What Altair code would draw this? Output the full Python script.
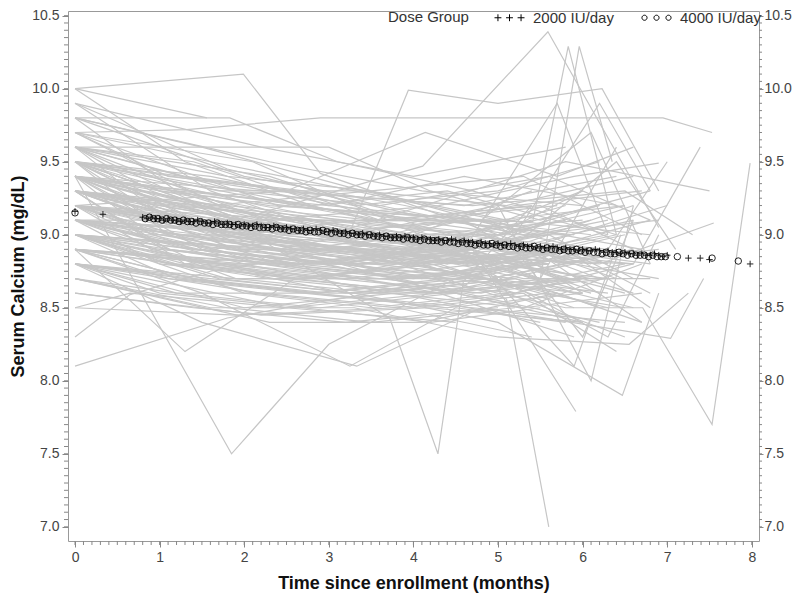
import altair as alt
import pandas as pd

# ---------------- data ----------------
# each subject: list of [months, serum calcium]
subjects = [
    [[0, 10.0], [1.99, 10.1], [2.9, 9.42], [4.5, 9.1], [6.1, 8.9]],
    [[0, 10.0], [1.56, 9.8]],
    [[0, 10.0], [1.3, 9.5], [2.8, 9.2], [4.4, 9.3], [6.3, 9.0]],
    [[0, 9.9], [1.8, 9.45], [3.6, 9.2], [5.6, 9.4], [6.8, 9.1]],
    [[0, 9.9], [1.6, 9.3], [3.1, 9.0], [4.9, 8.9]],
    [[0, 9.9], [2.2, 9.6], [4.0, 9.4], [5.8, 9.6]],
    [[0, 9.8], [1.83, 9.8], [3.1, 9.5], [4.7, 9.3], [6.4, 9.0]],
    [[0, 9.8], [1.2, 9.3], [2.6, 9.1], [4.3, 8.9], [5.9, 8.8]],
    [[0, 9.8], [2.0, 9.4], [3.9, 9.2], [5.5, 9.0]],
    [[0, 9.8], [1.5, 9.6], [3.4, 9.3], [5.1, 9.2], [6.6, 9.4]],
    [[0, 9.7], [1.32, 9.72], [2.9, 9.8], [6.95, 9.8], [7.53, 9.7]],
    [[0, 9.7], [1.7, 9.2], [3.3, 9.0], [5.2, 8.8], [6.5, 8.6]],
    [[0, 9.7], [2.1, 9.5], [3.7, 9.1], [5.4, 9.2]],
    [[0, 9.7], [1.1, 9.4], [2.6, 9.3], [4.1, 9.0], [6.0, 9.1]],
    [[0, 9.7], [2.4, 9.2], [4.8, 9.1], [6.7, 8.9]],
    [[0, 9.6], [3.0, 9.6], [4.2, 9.3], [5.5, 9.1], [6.8, 9.3]],
    [[0, 9.6], [1.5, 9.2], [3.2, 9.1], [4.9, 8.8], [6.3, 8.7]],
    [[0, 9.6], [1.9, 9.3], [3.6, 9.2], [5.3, 9.0]],
    [[0, 9.6], [0.9, 9.3], [2.4, 9.0], [4.0, 8.9], [5.8, 9.2]],
    [[0, 9.6], [2.3, 9.4], [4.4, 9.0], [6.1, 8.8]],
    [[0, 9.6], [1.4, 9.5], [3.0, 9.2], [4.6, 9.4], [6.4, 9.2]],
    [[0, 9.6], [2.7, 9.0], [4.9, 8.9], [6.9, 8.7]],
    [[0, 9.6], [1.1, 9.1], [2.9, 8.9], [4.5, 9.0], [5.7, 8.7]],
    [[0, 9.5], [1.6, 9.4], [3.3, 9.2], [5.0, 9.3], [6.2, 9.5]],
    [[0, 9.5], [1.2, 9.2], [2.8, 9.0], [4.4, 8.8], [6.0, 8.9]],
    [[0, 9.5], [2.0, 9.1], [3.8, 8.9], [5.6, 8.8]],
    [[0, 9.5], [1.0, 9.3], [2.5, 9.2], [4.2, 9.1], [5.9, 9.0]],
    [[0, 9.5], [1.8, 9.0], [3.5, 8.8], [5.2, 8.7], [6.6, 8.5]],
    [[0, 9.5], [2.5, 9.3], [4.6, 9.2], [6.4, 9.4]],
    [[0, 9.5], [1.4, 9.1], [3.1, 9.1], [4.8, 9.0], [6.2, 8.7]],
    [[0, 9.5], [2.2, 9.2], [4.0, 9.0], [5.4, 9.3]],
    [[0, 9.5], [0.8, 9.2], [2.3, 8.9], [3.9, 8.8], [5.5, 9.0]],
    [[0, 9.5], [2.0, 9.1], [3.2, 8.95], [3.94, 9.99], [5.0, 9.9], [6.23, 10.0], [6.9, 9.3]],
    [[0, 9.5], [1.7, 9.3], [3.4, 9.3], [5.1, 9.1], [6.8, 9.0]],
    [[0, 9.5], [2.9, 9.0], [5.3, 8.9], [7.0, 9.2]],
    [[0, 9.4], [1.9, 9.1], [4.11, 9.47], [5.59, 10.39], [6.9, 9.05]],
    [[0, 9.4], [2.5, 9.1], [5.41, 9.09], [5.83, 10.29], [6.4, 9.0]],
    [[0, 9.4], [1.85, 7.5], [3.0, 8.25], [4.5, 8.7], [5.9, 8.9]],
    [[0, 9.4], [1.3, 9.2], [2.8, 9.1], [4.3, 8.9], [5.8, 9.1]],
    [[0, 9.4], [1.7, 9.0], [3.4, 8.9], [5.0, 8.8], [6.5, 9.0]],
    [[0, 9.4], [2.2, 9.3], [4.0, 9.1], [5.7, 9.2]],
    [[0, 9.4], [1.0, 9.1], [2.6, 8.9], [4.1, 9.0], [5.5, 8.7]],
    [[0, 9.4], [2.0, 9.2], [3.7, 9.0], [5.2, 9.2], [6.7, 9.3]],
    [[0, 9.4], [1.5, 8.9], [3.2, 8.8], [4.8, 9.0], [6.3, 8.8]],
    [[0, 9.4], [2.4, 9.0], [4.2, 8.9], [6.0, 9.3]],
    [[0, 9.4], [1.2, 9.3], [3.0, 9.2], [4.7, 9.1], [6.1, 9.0]],
    [[0, 9.4], [2.8, 9.2], [4.9, 8.9], [6.6, 8.8]],
    [[0, 9.4], [1.6, 9.2], [3.5, 9.3], [5.4, 9.0], [6.9, 9.1]],
    [[0, 9.4], [0.9, 9.0], [2.4, 8.8], [4.0, 8.7], [5.6, 8.8]],
    [[0, 9.3], [1.6, 9.0], [3.3, 8.9], [5.1, 8.56], [5.6, 7.0]],
    [[0, 9.3], [1.4, 9.1], [3.0, 9.0], [4.6, 8.8], [6.1, 8.9]],
    [[0, 9.3], [2.1, 9.0], [3.72, 8.43], [4.29, 7.5], [4.59, 8.68], [5.4, 9.2]],
    [[0, 9.3], [1.1, 8.9], [2.7, 8.8], [4.4, 8.9], [5.9, 8.6]],
    [[0, 9.3], [2.0, 9.1], [3.9, 9.0], [5.5, 8.9], [6.8, 9.1]],
    [[0, 9.3], [1.8, 9.2], [3.5, 9.1], [5.2, 9.1]],
    [[0, 9.3], [0.8, 9.0], [2.3, 9.0], [4.1, 8.8], [5.7, 8.9]],
    [[0, 9.3], [2.6, 8.9], [4.5, 8.8], [6.3, 9.0]],
    [[0, 9.3], [1.3, 8.8], [3.1, 8.7], [4.8, 8.6], [6.5, 8.8]],
    [[0, 9.3], [2.2, 9.1], [4.3, 9.2], [5.9, 9.4], [6.9, 9.49]],
    [[0, 9.3], [1.5, 9.2], [3.4, 9.0], [5.0, 9.0], [6.0, 9.3]],
    [[0, 9.3], [2.9, 8.9], [4.9, 8.7], [6.7, 8.9]],
    [[0, 9.3], [1.0, 9.1], [2.5, 9.0], [4.0, 9.0], [5.3, 8.8]],
    [[0, 9.3], [1.9, 8.9], [3.6, 8.8], [5.6, 9.0], [6.6, 8.7]],
    [[0, 9.2], [2.8, 9.0], [5.5, 8.7], [5.96, 10.29], [6.35, 9.5]],
    [[0, 9.2], [2.5, 9.3], [4.14, 9.7], [5.7, 9.4], [6.6, 9.6]],
    [[0, 9.2], [1.4, 8.9], [3.0, 8.8], [4.7, 8.9], [6.2, 8.6]],
    [[0, 9.2], [1.7, 9.0], [3.5, 8.9], [5.2, 8.8]],
    [[0, 9.2], [1.1, 9.1], [2.8, 9.0], [4.5, 9.1], [6.0, 8.8]],
    [[0, 9.2], [2.3, 8.9], [4.1, 8.7], [5.8, 8.9], [6.8, 8.6]],
    [[0, 9.2], [1.9, 9.1], [3.8, 8.9], [5.4, 9.1]],
    [[0, 9.2], [0.9, 8.9], [2.6, 8.7], [4.2, 8.6], [5.9, 8.7]],
    [[0, 9.2], [2.0, 9.0], [3.3, 9.1], [5.0, 9.0], [6.5, 9.2]],
    [[0, 9.2], [1.5, 8.8], [3.2, 8.6], [4.9, 8.7], [6.3, 8.5]],
    [[0, 9.2], [2.7, 9.1], [4.6, 8.9], [6.1, 9.1]],
    [[0, 9.2], [1.2, 9.0], [2.9, 8.9], [4.4, 8.8], [5.6, 9.1]],
    [[0, 9.2], [2.2, 8.8], [4.0, 8.8], [5.7, 8.6], [6.7, 8.4]],
    [[0, 9.2], [1.6, 9.1], [3.6, 9.0], [5.3, 8.8], [6.9, 8.9]],
    [[0, 9.1], [1.4, 8.9], [3.1, 8.8], [4.7, 8.7], [6.2, 8.9]],
    [[0, 9.1], [2.1, 9.0], [3.9, 8.9], [5.6, 9.0]],
    [[0, 9.1], [1.0, 8.8], [2.6, 8.7], [4.3, 8.8], [5.9, 8.5]],
    [[0, 9.1], [1.8, 9.1], [3.5, 9.0], [5.1, 8.9], [6.6, 9.1]],
    [[0, 9.1], [2.5, 8.9], [4.4, 8.6], [6.0, 8.7]],
    [[0, 9.1], [1.3, 9.0], [3.0, 8.9], [4.9, 9.0], [6.4, 8.7]],
    [[0, 9.1], [2.0, 8.8], [3.7, 8.6], [5.3, 8.5], [6.7, 8.6]],
    [[0, 9.1], [1.6, 8.9], [3.3, 9.0], [5.0, 8.8]],
    [[0, 9.1], [2.8, 9.0], [4.6, 8.9], [6.3, 9.1]],
    [[0, 9.1], [1.1, 8.9], [2.7, 8.8], [4.5, 8.9], [5.8, 8.7]],
    [[0, 9.1], [2.3, 9.0], [4.2, 8.8], [5.5, 8.6], [6.5, 8.5]],
    [[0, 9.1], [1.9, 8.7], [3.6, 8.6], [5.2, 8.7]],
    [[0, 9.0], [1.5, 8.8], [3.2, 8.7], [4.8, 8.8], [6.4, 9.0]],
    [[0, 9.0], [2.2, 8.9], [4.0, 8.8], [5.7, 8.9]],
    [[0, 9.0], [1.2, 8.7], [2.8, 8.6], [4.4, 8.7], [6.0, 8.6]],
    [[0, 9.0], [1.9, 8.9], [3.7, 8.9], [5.3, 8.7], [6.8, 8.7]],
    [[0, 9.0], [2.5, 8.7], [4.3, 8.6], [5.9, 8.8]],
    [[0, 9.0], [1.0, 8.9], [2.6, 8.8], [4.1, 8.9], [5.5, 8.8]],
    [[0, 9.0], [2.0, 8.6], [3.5, 8.5], [5.1, 8.6], [6.5, 8.3]],
    [[0, 9.0], [1.6, 8.8], [3.4, 8.8], [5.0, 9.0], [6.2, 9.2]],
    [[0, 9.0], [2.9, 8.8], [4.7, 8.6], [6.3, 8.7]],
    [[0, 9.0], [1.3, 8.8], [3.0, 8.9], [4.6, 8.8]],
    [[0, 9.0], [2.4, 8.9], [4.2, 8.7], [5.8, 8.5], [6.71, 8.5], [7.53, 7.7], [7.98, 9.49]],
    [[0, 9.0], [1.7, 8.7], [3.3, 8.6], [5.0, 8.4], [6.47, 7.9], [6.9, 8.6]],
    [[0, 8.9], [1.3, 8.2], [2.6, 8.7], [4.1, 8.8], [5.2, 8.6]],
    [[0, 8.9], [1.8, 8.8], [3.6, 8.7], [5.4, 8.8], [6.6, 8.6]],
    [[0, 8.9], [2.3, 8.7], [4.0, 8.6], [5.6, 8.7]],
    [[0, 8.9], [1.1, 8.7], [2.7, 8.6], [4.4, 8.5], [6.0, 8.6]],
    [[0, 8.9], [2.0, 8.8], [3.9, 8.8], [5.5, 8.9], [6.8, 8.8]],
    [[0, 8.9], [1.5, 8.6], [3.25, 8.1], [4.5, 8.5], [5.8, 8.4]],
    [[0, 8.9], [2.6, 8.8], [4.5, 8.7], [6.2, 8.9]],
    [[0, 8.9], [1.2, 8.8], [2.9, 8.7], [4.7, 8.9], [5.92, 7.79]],
    [[0, 8.9], [2.1, 8.6], [3.8, 8.5], [5.3, 8.6], [6.4, 8.2]],
    [[0, 8.9], [1.7, 8.8], [3.4, 8.7], [5.0, 8.7]],
    [[0, 8.8], [1.6, 8.7], [3.3, 8.6], [4.9, 8.7], [6.3, 8.6]],
    [[0, 8.8], [2.2, 8.6], [4.0, 8.5], [5.6, 8.6]],
    [[0, 8.8], [1.3, 8.7], [2.9, 8.6], [4.6, 8.7], [6.1, 8.9]],
    [[0, 8.8], [2.5, 8.5], [4.3, 8.6], [5.9, 8.3]],
    [[0, 8.8], [1.0, 8.6], [2.7, 8.5], [4.2, 8.4], [5.5, 8.5]],
    [[0, 8.8], [1.9, 8.7], [3.7, 8.7], [5.3, 8.5], [6.7, 8.8]],
    [[0, 8.8], [2.8, 8.6], [4.7, 8.5], [6.5, 8.4]],
    [[0, 8.8], [1.5, 8.4], [3.33, 8.1], [4.8, 8.5], [7.04, 8.29], [7.43, 8.7]],
    [[0, 8.7], [1.8, 8.5], [3.5, 8.4], [5.2, 8.5]],
    [[0, 8.7], [1.2, 8.6], [2.9, 8.5], [4.5, 8.6], [6.0, 8.4]],
    [[0, 8.7], [2.3, 8.4], [4.1, 8.4], [5.7, 8.6]],
    [[0, 8.7], [1.6, 8.5], [3.3, 8.5], [5.0, 8.3], [6.55, 8.25], [7.25, 8.6]],
    [[0, 8.6], [1.4, 8.5], [3.2, 8.4], [5.0, 8.5]],
    [[0, 8.6], [2.2, 8.45], [4.2, 8.5], [6.0, 8.4]],
    [[0, 8.5], [1.9, 8.45], [3.8, 8.5], [5.4, 8.3]],
    [[0, 8.5], [0.65, 8.6], [2.5, 8.5], [4.5, 8.4]],
    [[0, 8.3], [0.65, 8.59], [1.6, 8.75], [3.2, 8.9], [4.8, 8.7]],
    [[0, 8.1], [1.8, 8.43], [3.5, 8.6], [5.2, 8.7], [6.2, 8.5]],
    [[0, 9.4], [3.0, 9.0], [5.8, 9.5], [7.5, 9.3]],
    [[0, 9.2], [3.1, 8.9], [6.2, 8.8], [7.55, 9.08]],
    [[0, 9.0], [2.5, 8.9], [6.6, 8.8], [7.39, 9.6]],
    [[0, 9.3], [2.0, 9.1], [4.6, 8.9], [5.7, 9.9], [6.3, 9.0]],
    [[0, 9.1], [2.4, 8.9], [5.0, 9.2], [6.1, 8.0], [6.6, 9.2]],
    [[0, 9.4], [2.7, 9.2], [5.2, 9.0], [6.2, 9.9], [6.8, 9.3]],
    [[0, 9.2], [1.9, 9.0], [4.8, 8.8], [5.9, 8.1], [6.45, 9.0]],
    [[0, 9.6], [1.3, 9.4], [2.7, 9.3], [4.3, 9.1], [5.8, 9.0]],
    [[0, 9.5], [1.9, 9.3], [3.6, 9.1], [5.5, 9.2], [6.6, 8.9]],
    [[0, 9.5], [1.1, 9.0], [2.6, 8.8], [4.2, 8.9], [6.1, 8.7]],
    [[0, 9.4], [2.1, 8.9], [3.8, 8.7], [5.4, 8.8]],
    [[0, 9.4], [1.4, 9.1], [3.1, 8.9], [4.6, 9.1], [6.0, 8.6]],
    [[0, 9.3], [1.2, 9.2], [2.9, 9.1], [4.7, 9.0], [6.2, 9.2]],
    [[0, 9.3], [2.4, 8.8], [4.2, 8.7], [5.8, 8.9], [6.8, 8.5]],
    [[0, 9.2], [1.0, 9.0], [2.5, 8.9], [4.0, 8.8], [5.6, 8.9]],
    [[0, 9.2], [1.8, 8.9], [3.4, 8.8], [5.1, 8.9], [6.6, 9.2]],
    [[0, 9.1], [1.5, 9.0], [3.2, 8.9], [4.8, 8.8], [6.1, 8.6]],
    [[0, 9.1], [2.2, 8.8], [3.9, 8.7], [5.6, 8.8]],
    [[0, 9.0], [1.1, 8.8], [2.7, 8.7], [4.3, 8.8], [5.9, 8.9]],
    [[0, 9.0], [1.8, 8.7], [3.6, 8.7], [5.2, 8.6], [6.6, 8.8]],
    [[0, 8.9], [1.4, 8.7], [3.0, 8.6], [4.6, 8.6], [6.2, 8.4]],
    [[0, 8.9], [2.4, 8.8], [4.3, 8.6], [5.8, 8.7]],
    [[0, 8.8], [1.2, 8.6], [2.8, 8.6], [4.4, 8.5], [6.0, 8.7]],
    [[0, 8.8], [2.0, 8.5], [3.8, 8.6], [5.5, 8.4]],
    [[0, 9.7], [1.6, 9.5], [3.3, 9.3], [5.0, 9.1], [6.5, 9.2]],
    [[0, 9.8], [2.3, 9.5], [4.1, 9.3], [6.0, 9.2]],
    [[0, 9.6], [1.8, 9.4], [3.5, 9.3], [5.3, 9.4], [6.7, 9.0]],
    [[0, 9.5], [2.6, 9.2], [4.5, 9.0], [6.3, 8.9], [7.0, 9.5]],
    [[0, 9.3], [1.7, 9.1], [3.7, 9.0], [5.5, 8.7], [6.4, 9.6]],
    [[0, 9.2], [2.6, 9.0], [4.8, 9.1], [6.1, 9.7], [6.8, 8.8]],
    [[0, 9.1], [2.0, 8.9], [4.4, 8.9], [6.3, 8.3], [6.9, 9.0]],
    [[0, 9.0], [2.2, 8.8], [4.5, 8.6], [6.4, 9.5], [7.1, 8.9]],
    [[0, 9.4], [2.3, 9.2], [4.9, 9.1], [6.7, 8.4]],
    [[0, 9.3], [2.8, 9.1], [5.2, 8.9], [6.0, 8.3], [6.6, 9.1]],
    [[0, 9.5], [2.3, 9.3], [4.7, 9.2], [6.5, 9.3], [7.3, 9.0]],
    [[0, 9.0], [1.4, 8.9], [3.1, 8.8], [4.9, 8.7], [6.6, 8.9]],
    [[0, 9.2], [1.3, 9.1], [3.0, 9.0], [4.3, 9.0], [5.9, 9.0]],
]

groups = ["2000 IU/day", "4000 IU/day"]

# predicted values, 2000 IU/day (plus markers)
m2000_t = [0, 0.33,
           0.80, 0.85, 0.90, 0.95, 1.00, 1.05, 1.10, 1.15, 1.20, 1.25,
           1.30, 1.35, 1.40, 1.45, 1.50, 1.55, 1.60, 1.65, 1.70, 1.75,
           1.80, 1.85, 1.90, 1.95, 2.00, 2.05, 2.10, 2.15, 2.20, 2.25,
           2.30, 2.35, 2.40, 2.45, 2.50, 2.55, 2.60, 2.65, 2.70, 2.75,
           2.80, 2.85, 2.90, 2.95, 3.00, 3.05, 3.10, 3.15, 3.20, 3.25,
           3.30, 3.35, 3.40, 3.45, 3.50, 3.55, 3.60, 3.65, 3.70, 3.75,
           3.80, 3.85, 3.90, 3.95, 4.00, 4.05, 4.10, 4.15, 4.20, 4.25,
           4.30, 4.35, 4.40, 4.45, 4.50, 4.55, 4.60, 4.65, 4.70, 4.75,
           4.80, 4.85, 4.90, 4.95, 5.00, 5.05, 5.10, 5.15, 5.20, 5.25,
           5.30, 5.35, 5.40, 5.45, 5.50, 5.55, 5.60, 5.65, 5.70, 5.75,
           5.80, 5.85, 5.90, 5.95, 6.00, 6.05, 6.10, 6.15, 6.20, 6.25,
           6.30, 6.35, 6.40, 6.45, 6.50, 6.55, 6.60, 6.65, 6.70, 6.75,
           6.80, 6.85, 6.90, 6.95, 7.00,
           7.25, 7.39, 7.50, 7.98]
m2000_v = [9.16, 9.14,
           9.12, 9.11, 9.12, 9.11, 9.11, 9.10, 9.11, 9.10, 9.10, 9.09,
           9.10, 9.09, 9.09, 9.10, 9.09, 9.08, 9.08, 9.09, 9.08, 9.07,
           9.08, 9.07, 9.07, 9.06, 9.07, 9.06, 9.06, 9.07, 9.06, 9.05,
           9.05, 9.06, 9.05, 9.04, 9.05, 9.04, 9.04, 9.03, 9.04, 9.03,
           9.03, 9.04, 9.03, 9.02, 9.02, 9.03, 9.02, 9.01, 9.02, 9.01,
           9.01, 9.00, 9.01, 9.00, 9.00, 8.99, 9.00, 8.99, 8.99, 8.98,
           8.99, 8.98, 8.99, 8.98, 8.98, 8.97, 8.98, 8.97, 8.97, 8.96,
           8.97, 8.96, 8.96, 8.97, 8.96, 8.95, 8.96, 8.95, 8.95, 8.94,
           8.95, 8.94, 8.94, 8.93, 8.94, 8.93, 8.93, 8.94, 8.93, 8.92,
           8.93, 8.92, 8.92, 8.91, 8.92, 8.91, 8.91, 8.92, 8.91, 8.90,
           8.91, 8.90, 8.90, 8.89, 8.90, 8.89, 8.89, 8.90, 8.89, 8.88,
           8.89, 8.88, 8.88, 8.87, 8.88, 8.87, 8.87, 8.86, 8.87, 8.86,
           8.86, 8.87, 8.86, 8.85, 8.86,
           8.84, 8.84, 8.83, 8.80]

# predicted values, 4000 IU/day (circle markers)
m4000_t = [0,
           0.83, 0.88, 0.93, 0.98, 1.03, 1.08, 1.13, 1.18, 1.23, 1.28,
           1.33, 1.38, 1.43, 1.48, 1.53, 1.58, 1.63, 1.68, 1.73, 1.78,
           1.83, 1.88, 1.93, 1.98, 2.03, 2.08, 2.13, 2.18, 2.23, 2.28,
           2.33, 2.38, 2.43, 2.48, 2.53, 2.58, 2.63, 2.68, 2.73, 2.78,
           2.83, 2.88, 2.93, 2.98, 3.03, 3.08, 3.13, 3.18, 3.23, 3.28,
           3.33, 3.38, 3.43, 3.48, 3.53, 3.58, 3.63, 3.68, 3.73, 3.78,
           3.83, 3.88, 3.93, 3.98, 4.03, 4.08, 4.13, 4.18, 4.23, 4.28,
           4.33, 4.38, 4.43, 4.48, 4.53, 4.58, 4.63, 4.68, 4.73, 4.78,
           4.83, 4.88, 4.93, 4.98, 5.03, 5.08, 5.13, 5.18, 5.23, 5.28,
           5.33, 5.38, 5.43, 5.48, 5.53, 5.58, 5.63, 5.68, 5.73, 5.78,
           5.83, 5.88, 5.93, 5.98, 6.03, 6.08, 6.13, 6.18, 6.23, 6.28,
           6.33, 6.38, 6.43, 6.48, 6.53, 6.58, 6.63, 6.68, 6.73, 6.78,
           6.83, 6.88, 6.93, 6.98,
           7.12, 7.53, 7.84]
m4000_v = [9.15,
           9.11, 9.12, 9.11, 9.11, 9.10, 9.11, 9.10, 9.10, 9.09, 9.10,
           9.09, 9.09, 9.08, 9.09, 9.08, 9.08, 9.07, 9.08, 9.07, 9.07,
           9.07, 9.06, 9.07, 9.06, 9.06, 9.05, 9.06, 9.05, 9.05, 9.05,
           9.04, 9.05, 9.04, 9.04, 9.03, 9.04, 9.03, 9.03, 9.02, 9.03,
           9.02, 9.02, 9.03, 9.02, 9.01, 9.02, 9.01, 9.01, 9.00, 9.01,
           9.00, 9.00, 8.99, 9.00, 8.99, 8.99, 8.98, 8.99, 8.98, 8.98,
           8.98, 8.97, 8.98, 8.97, 8.97, 8.96, 8.97, 8.96, 8.96, 8.96,
           8.95, 8.96, 8.95, 8.95, 8.94, 8.95, 8.94, 8.94, 8.93, 8.94,
           8.93, 8.93, 8.94, 8.93, 8.92, 8.93, 8.92, 8.92, 8.91, 8.92,
           8.91, 8.91, 8.92, 8.91, 8.90, 8.91, 8.90, 8.90, 8.89, 8.90,
           8.89, 8.89, 8.90, 8.89, 8.88, 8.89, 8.88, 8.88, 8.87, 8.88,
           8.87, 8.87, 8.88, 8.87, 8.86, 8.87, 8.86, 8.86, 8.86, 8.85,
           8.86, 8.85, 8.85, 8.85,
           8.85, 8.84, 8.82]

x_major = [0, 1, 2, 3, 4, 5, 6, 7, 8]
y_major = [7.0, 7.5, 8.0, 8.5, 9.0, 9.5, 10.0, 10.5]
x_minor = [round(i * 0.1, 2) for i in range(0, 81)]
y_minor = [round(7.0 + i * 0.05, 2) for i in range(0, 71)]

# ---------------- tables ----------------
rows = []
for i, s in enumerate(subjects):
    for t, v in s:
        rows.append({"id": i, "t": t, "v": v})
lines_df = pd.DataFrame(rows)

mk_df = pd.DataFrame({
    "t": m2000_t + m4000_t,
    "v": m2000_v + m4000_v,
    "group": [groups[0]] * len(m2000_t) + [groups[1]] * len(m4000_t),
})

FONT = "Liberation Sans"
W, H = 691, 530

xscale = alt.Scale(domain=[-0.083, 8.085], nice=False, zero=False)
yscale = alt.Scale(domain=[6.903, 10.532], nice=False, zero=False)

xaxis = alt.Axis(values=x_major, format="d", title="Time since enrollment (months)",
                 grid=False, domain=False, tickSize=6, tickColor="#888",
                 labelFont=FONT, labelFontSize=14, labelColor="#444", labelPadding=3,
                 labelFlush=False, titleFont=FONT, titleFontSize=18,
                 titleFontWeight="bold", titleColor="#111", titlePadding=10)
yaxis_l = alt.Axis(values=y_major, format=".1f", title="Serum Calcium (mg/dL)",
                   grid=False, domain=False, tickSize=6, tickColor="#888",
                   labelFont=FONT, labelFontSize=14, labelColor="#444", labelPadding=3,
                   labelFlush=False, titleFont=FONT, titleFontSize=18,
                   titleFontWeight="bold", titleColor="#111", titlePadding=4)
yaxis_r = alt.Axis(values=y_major, format=".1f", title=None, orient="right",
                   grid=False, domain=False, tickSize=4, tickColor="#888",
                   labelFont=FONT, labelFontSize=14, labelColor="#444", labelPadding=1,
                   labelFlush=False)

X = alt.X("t:Q", scale=xscale, axis=xaxis)

PLUS = "M-1,0H1M0,-1V1"
TRI_PLUS = ("M-1,0H-0.54M-0.77,-0.23V0.23"
            "M-0.23,0H0.23M0,-0.23V0.23"
            "M0.54,0H1M0.77,-0.23V0.23")
TRI_CIRC = ("M-0.97,0A0.17,0.17 0 1,0 -0.63,0A0.17,0.17 0 1,0 -0.97,0"
            "M-0.17,0A0.17,0.17 0 1,0 0.17,0A0.17,0.17 0 1,0 -0.17,0"
            "M0.63,0A0.17,0.17 0 1,0 0.97,0A0.17,0.17 0 1,0 0.63,0")

lines = alt.Chart(lines_df).mark_line(color="#c6c6c6", strokeWidth=1.2).encode(
    x=X, y=alt.Y("v:Q", scale=yscale, axis=yaxis_l), detail="id:N")

markers = alt.Chart(mk_df).mark_point(filled=False, color="black", size=42,
                                      strokeWidth=1, opacity=0.85).encode(
    x=X, y=alt.Y("v:Q", scale=yscale, axis=None),
    shape=alt.Shape("group:N", scale=alt.Scale(domain=groups, range=[PLUS, "circle"]),
                    legend=None))

legend_layer = alt.Chart(mk_df).mark_point(filled=False, color="black", opacity=0).encode(
    x=X, y=alt.Y("v:Q", scale=yscale, axis=None),
    shape=alt.Shape("group:N", scale=alt.Scale(domain=groups, range=[TRI_PLUS, TRI_CIRC]),
                    legend=alt.Legend(title="Dose Group", orient="none", legendX=320,
                                      legendY=-9, direction="horizontal",
                                      titleOrient="left",
                                      titleBaseline="line-top", titleLineHeight=8,
                                      titleFont=FONT, titleFontSize=15,
                                      titleFontWeight="normal", titleColor="#333",
                                      labelFont=FONT, labelFontSize=15, labelColor="#333",
                                      symbolSize=900, symbolStrokeWidth=1,
                                      symbolStrokeColor="black", symbolOpacity=1,
                                      symbolFillColor="transparent", padding=0,
                                      columnPadding=25, titlePadding=25, labelOffset=8)))

xminor = alt.Chart(pd.DataFrame({"t": x_minor})).mark_rule(color="#888", strokeWidth=1).encode(
    x=X, y=alt.value(H), y2=alt.value(H + 4))
yminor_l = alt.Chart(pd.DataFrame({"v": y_minor})).mark_rule(color="#888", strokeWidth=1).encode(
    y=alt.Y("v:Q", scale=yscale, axis=None), x=alt.value(0), x2=alt.value(-4))
yminor_r = alt.Chart(pd.DataFrame({"v": y_minor})).mark_rule(color="#888", strokeWidth=1).encode(
    y=alt.Y("v:Q", scale=yscale, axis=yaxis_r), x=alt.value(W), x2=alt.value(W + 3))

chart = alt.layer(lines, markers, legend_layer, xminor, yminor_l, yminor_r).resolve_scale(
    shape="independent").resolve_axis(y="independent").properties(
    width=W, height=H,
    autosize=alt.AutoSizeParams(type="none"),
    padding={"left": 60, "top": 3, "right": 33, "bottom": 52},
).configure_view(stroke="#999", strokeWidth=1)

chart.save("out.html", embed_options={"renderer": "svg", "actions": False})
